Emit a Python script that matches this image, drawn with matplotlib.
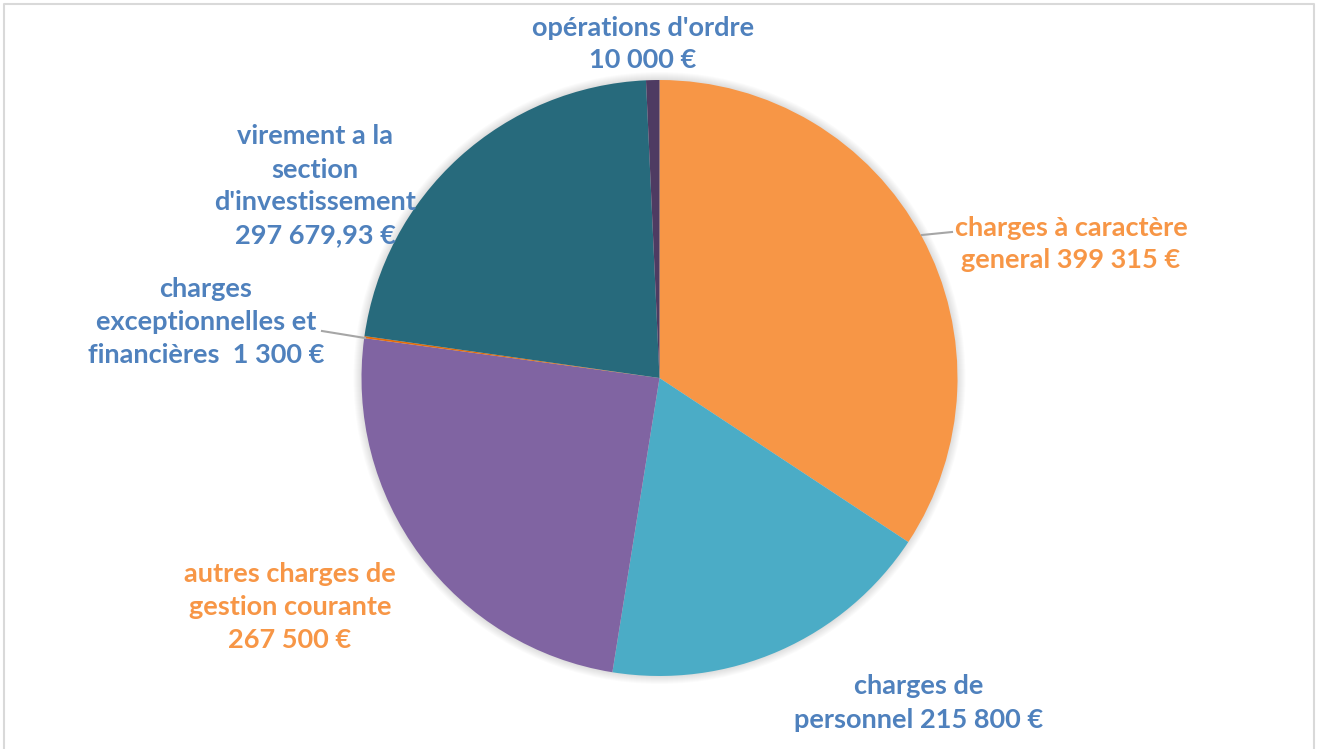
import matplotlib.pyplot as plt
from matplotlib.patches import Circle

W, H = 1317, 749

labels = ["charges à caractère\ngeneral 399 315 €",
          "charges de\npersonnel 215 800 €",
          "autres charges de\ngestion courante\n267 500 €",
          "charges\nexceptionnelles et\nfinancières  1 300 €",
          "virement a la\nsection\nd'investissement\n297 679,93 €",
          "opérations d'ordre\n10 000 €"]
# slice sizes (they differ a bit from the label texts)
values = [405300, 215800, 291000, 1300, 260500, 8540]
colors = ["#F79646", "#4BACC6", "#8064A2", "#E36C09", "#276A7C", "#4E3B62"]
label_colors = ["#F79646", "#4F81BD", "#F79646", "#4F81BD", "#4F81BD", "#4F81BD"]
# label centre positions in pixels (x, y from top)
label_pos = [(1071, 244), (919, 703), (290, 607), (206, 322), (315, 186), (643, 44)]

cx, cy, r = 659.5, 378, 298

fig = plt.figure(figsize=(W / 100, H / 100), dpi=100)
ax = fig.add_axes([0, 0, 1, 1])

# soft shadow behind the pie
for i in range(8):
    ax.add_patch(Circle((cx, H - cy), r + 8 - i, color="black", alpha=0.014, lw=0, zorder=0))

ax.pie(values, colors=colors, startangle=90, counterclock=False,
       center=(cx, H - cy), radius=r, frame=True,
       wedgeprops=dict(linewidth=0))
ax.set_xlim(0, W)
ax.set_ylim(0, H)
ax.set_aspect("equal")
ax.axis("off")

for lab, col, (x, y) in zip(labels, label_colors, label_pos):
    ax.text(x, H - y, lab, color=col, ha="center", va="center", fontsize=19.5,
            fontweight="bold", family="Lato", linespacing=1.45, zorder=5)

# leader lines
ax.plot([922, 952], [H - 235, H - 232], color="#A6A6A6", lw=1.5, zorder=4)
ax.plot([322, 365], [H - 331, H - 338], color="#A6A6A6", lw=1.5, zorder=4)

# chart border
ax.plot([4, 4, 1314, 1314], [0, H - 4, H - 4, 0], color="#D9D9D9", lw=1.5, zorder=6)

fig.savefig("out.png", dpi=100)
